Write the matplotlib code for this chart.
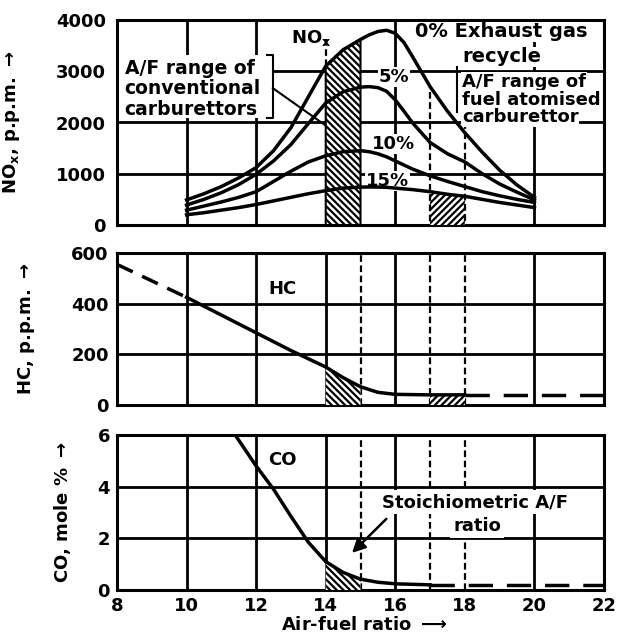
import matplotlib
matplotlib.use('Agg')
import matplotlib.pyplot as plt
import numpy as np
from matplotlib.patches import Rectangle

plt.rcParams['font.family'] = ['DejaVu Sans']
plt.rcParams['font.weight'] = 'bold'
plt.rcParams['hatch.linewidth'] = 1.6
plt.rcParams['mathtext.default'] = 'bf'

# ---------------- data ----------------
x_ticks = [8, 10, 12, 14, 16, 18, 20, 22]

nox_af = [10, 10.5, 11, 11.5, 12, 12.5, 13, 13.5, 14, 14.5, 15, 15.25, 15.5, 15.75,
          16, 16.25, 16.5, 17, 17.5, 18, 18.5, 19, 19.5, 20]
nox_egr0 = [490, 610, 750, 920, 1120, 1450, 1900, 2500, 3100, 3420, 3620, 3710, 3775, 3800,
            3740, 3560, 3280, 2700, 2220, 1800, 1420, 1070, 780, 540]
nox_egr5 = [390, 500, 630, 790, 990, 1250, 1570, 1980, 2380, 2600, 2690, 2700, 2680, 2610,
            2440, 2220, 1990, 1610, 1390, 1230, 1000, 800, 640, 490]
nox_egr10 = [290, 370, 450, 540, 650, 850, 1050, 1230, 1350, 1430, 1450, 1430, 1390, 1330,
             1250, 1170, 1090, 960, 850, 750, 650, 570, 500, 440]
nox_egr15 = [200, 240, 290, 340, 400, 470, 540, 610, 670, 720, 740, 742, 740, 735,
             720, 705, 690, 650, 600, 560, 500, 440, 390, 340]
nox_yticks = [0, 1000, 2000, 3000, 4000]

hc_af = [8, 10, 12, 13, 14, 14.5, 15, 15.5, 16, 17, 18, 22]
hc_ppm = [555, 425, 285, 215, 150, 108, 72, 50, 42, 40, 40, 40]
hc_yticks = [0, 200, 400, 600]

co_af = [11.3, 11.4, 12, 12.5, 13, 13.5, 14, 14.5, 15, 15.5, 16, 17, 22]
co_pct = [6.2, 6.0, 4.8, 3.9, 2.85, 1.85, 1.1, 0.68, 0.42, 0.3, 0.24, 0.2, 0.2]
co_yticks = [0, 2, 4, 6]

conv_range = (14, 15)       # A/F range of conventional carburettors
atom_range = (17, 18)       # A/F range of fuel atomised carburettor
stoich_af = 15

# ---------------- figure ----------------
fig = plt.figure(figsize=(6.21, 6.38), dpi=100)
L, W = 117 / 621, 487 / 621


def pos(top, bot):
    return [L, 1 - bot / 638, W, (bot - top) / 638]


ax1 = fig.add_axes(pos(20, 225))
ax2 = fig.add_axes(pos(253, 405))
ax3 = fig.add_axes(pos(435, 590))

LW_GRID = 2.0
LW_CURVE = 2.5
FS = 13
DASH = (0, (3, 1.6))
HATCH_B = '\\\\\\\\\\'
HATCH_F = '/////'

for ax in (ax1, ax2, ax3):
    ax.set_xlim(8, 22)
    ax.set_xticks(x_ticks)
    for s in ax.spines.values():
        s.set_linewidth(2.2)
    ax.tick_params(length=0, labelsize=FS)
    for lab in ax.get_yticklabels() + ax.get_xticklabels():
        lab.set_fontweight('bold')

ax1.tick_params(labelbottom=False, pad=8)
ax2.tick_params(labelbottom=False, pad=6)
ax3.tick_params(pad=5)

wb = dict(facecolor='white', edgecolor='none', pad=0.5)

# ---------- NOx panel ----------
ax1.set_ylim(0, 4000)
ax1.set_yticks(nox_yticks)
for y in nox_yticks[1:-1]:
    ax1.axhline(y, color='black', lw=LW_GRID, zorder=1)
for x in [10, 12, 16, 20]:
    ax1.axvline(x, color='black', lw=LW_GRID, zorder=1)

af = np.array(nox_af)
for ys in (nox_egr0, nox_egr5, nox_egr10, nox_egr15):
    ax1.plot(af, ys, color='black', lw=LW_CURVE, zorder=4, solid_joinstyle='round')

m = (af >= conv_range[0]) & (af <= conv_range[1])
ax1.fill_between(af[m], 0, np.array(nox_egr0)[m], facecolor='white',
                 edgecolor='black', hatch=HATCH_B, lw=1.5, zorder=3)
m2 = (af >= atom_range[0]) & (af <= atom_range[1])
ax1.fill_between(af[m2], 0, np.array(nox_egr15)[m2], facecolor='white',
                 edgecolor='black', hatch=HATCH_F, lw=0, zorder=3)

ax1.plot([conv_range[0], conv_range[0]], [3620, 3100], color='black', lw=1.6, ls=DASH, zorder=3)
ax1.plot([atom_range[0], atom_range[0]], [2600, 0], color='black', lw=1.6, ls=DASH, zorder=3)
ax1.plot([atom_range[1], atom_range[1]], [2200, 0], color='black', lw=1.6, ls=DASH, zorder=3)

# left label box
ax1.add_patch(Rectangle((8, 2090), 4.48, 1230, facecolor='white', edgecolor='none', zorder=2))
ax1.plot([12.3, 12.48, 12.48, 12.3], [3320, 3320, 2090, 2090], color='black', lw=1.5, zorder=3)
ax1.plot([12.48, 13.98], [2670, 1950], color='black', lw=1.5, zorder=3)
for txt, yy in [('A/F range of', 3063), ('conventional', 2673), ('carburettors', 2260)]:
    ax1.text(8.22, yy, txt, fontsize=13.5, fontweight='bold', ha='left', va='center', zorder=5)

# right label
ax1.plot([17.77, 17.77], [3080, 2200], color='black', lw=1.5, zorder=3)
for txt, yy in [('A/F range of', 2790), ('fuel atomised', 2440), ('carburettor', 2107)]:
    ax1.text(17.92, yy, txt, fontsize=13, fontweight='bold', ha='left', va='center', zorder=3,
             bbox=wb)

ax1.text(19.05, 3766, '0% Exhaust gas', fontsize=14, fontweight='bold', ha='center', va='center', zorder=3, bbox=wb)
ax1.text(19.05, 3280, 'recycle', fontsize=14, fontweight='bold', ha='center', va='center', zorder=3, bbox=wb)
ax1.text(15.96, 2890, '5%', fontsize=FS, fontweight='bold', ha='center', va='center', zorder=3, bbox=wb)
ax1.text(15.96, 1580, '10%', fontsize=FS, fontweight='bold', ha='center', va='center', zorder=3, bbox=wb)
ax1.text(15.78, 860, '15%', fontsize=FS, fontweight='bold', ha='center', va='center', zorder=3, bbox=wb)
ax1.text(13.58, 3640, r'NO$_\mathbf{x}$', fontsize=FS, fontweight='bold', ha='center', va='center', zorder=5)

ax1.set_ylabel(r'NO$_\mathbf{x}$, p.p.m. $\rightarrow$', fontsize=FS, fontweight='bold')
ax1.yaxis.set_label_coords(-0.195, 0.5)

# ---------- HC panel ----------
ax2.set_ylim(0, 600)
ax2.set_yticks(hc_yticks)
for y in hc_yticks[1:-1]:
    ax2.axhline(y, color='black', lw=LW_GRID, zorder=1)
for x in [10, 12, 14, 16, 20]:
    ax2.axvline(x, color='black', lw=LW_GRID, zorder=1)
for x in [stoich_af, atom_range[0], atom_range[1]]:
    ax2.axvline(x, color='black', lw=1.6, ls=DASH, zorder=2)

hx = np.array(hc_af)
hy = np.array(hc_ppm)
ms = (hx >= 10) & (hx <= 18)
ax2.plot(hx[ms], hy[ms], color='black', lw=LW_CURVE, zorder=4, solid_joinstyle='round')
ax2.plot(hx[hx <= 10], hy[hx <= 10], color='black', lw=LW_CURVE, ls=(0, (5, 3)), zorder=4)
ax2.plot(hx[hx >= 18], hy[hx >= 18], color='black', lw=LW_CURVE, ls=(0, (7, 4)), zorder=4)
mh = (hx >= conv_range[0]) & (hx <= conv_range[1])
ax2.fill_between(hx[mh], 0, hy[mh], facecolor='white', edgecolor='black', hatch=HATCH_B, lw=0, zorder=3)
mh2 = (hx >= atom_range[0]) & (hx <= atom_range[1])
ax2.fill_between(hx[mh2], 0, hy[mh2], facecolor='white', edgecolor='black', hatch=HATCH_F, lw=0, zorder=3)
ax2.text(12.77, 458, 'HC', fontsize=FS, fontweight='bold', ha='center', va='center', zorder=3, bbox=wb)

ax2.set_ylabel(r'HC, p.p.m. $\rightarrow$', fontsize=FS, fontweight='bold')
ax2.yaxis.set_label_coords(-0.164, 0.5)

# ---------- CO panel ----------
ax3.set_ylim(0, 6)
ax3.set_yticks(co_yticks)
for y in co_yticks[1:-1]:
    ax3.axhline(y, color='black', lw=LW_GRID, zorder=1)
for x in [10, 12, 14, 16, 20]:
    ax3.axvline(x, color='black', lw=LW_GRID, zorder=1)
for x in [stoich_af, atom_range[0], atom_range[1]]:
    ax3.axvline(x, color='black', lw=1.6, ls=DASH, zorder=2)

cx = np.array(co_af)
cy = np.array(co_pct)
ax3.plot(cx[cx <= 17], cy[cx <= 17], color='black', lw=LW_CURVE, zorder=4, solid_joinstyle='round')
ax3.plot(cx[cx >= 17], cy[cx >= 17], color='black', lw=LW_CURVE, ls=(0, (7, 4)), zorder=4)
mc = (cx >= conv_range[0]) & (cx <= conv_range[1])
ax3.fill_between(cx[mc], 0, cy[mc], facecolor='white', edgecolor='black', hatch=HATCH_B, lw=0, zorder=3)
mc2 = (cx >= atom_range[0]) & (cx <= atom_range[1])
ax3.fill_between(cx[mc2], 0, cy[mc2], facecolor='white', edgecolor='black', hatch=HATCH_F, lw=0, zorder=3)
ax3.text(12.75, 5.05, 'CO', fontsize=FS, fontweight='bold', ha='center', va='center', zorder=3, bbox=wb)
ax3.text(18.29, 3.4, 'Stoichiometric A/F', fontsize=FS, fontweight='bold', ha='center', va='center',
         zorder=3, bbox=dict(facecolor='white', edgecolor='none', pad=2))
ax3.text(18.35, 2.48, 'ratio', fontsize=FS, fontweight='bold', ha='center', va='center',
         zorder=3, bbox=dict(facecolor='white', edgecolor='none', pad=2))
ax3.annotate('', xy=(14.7, 1.36), xytext=(15.8, 2.83),
             arrowprops=dict(arrowstyle='-|>,head_length=0.8,head_width=0.4', color='black', lw=1.8),
             zorder=5)

ax3.set_ylabel(r'CO, mole % $\rightarrow$', fontsize=FS, fontweight='bold')
ax3.yaxis.set_label_coords(-0.09, 0.5)
ax3.set_xlabel(r'Air-fuel ratio $\longrightarrow$', fontsize=FS, fontweight='bold')
ax3.xaxis.set_label_coords(0.507, -0.17)

fig.savefig('out.png', dpi=100)
